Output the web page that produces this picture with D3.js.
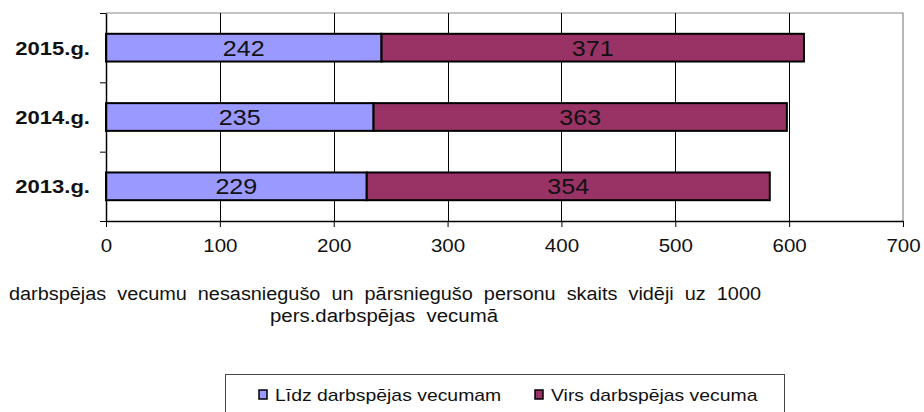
<!doctype html>
<html>
<head>
<meta charset="utf-8">
<script src="https://d3js.org/d3.v7.min.js"></script>
<style>
  body { margin: 0; background: #fff; }
  svg { display: block; font-family: "Liberation Sans", Arial, sans-serif; }
</style>
</head>
<body>
<script>
// data
var years = ["2015.g.", "2014.g.", "2013.g."];
var below = [242, 235, 229];   // Līdz darbspējas vecumam
var above = [371, 363, 354];   // Virs darbspējas vecuma
var seriesNames = ["Līdz darbspējas vecumam", "Virs darbspējas vecuma"];
var seriesColors = ["#9999FF", "#993366"];
var xTicks = [0, 100, 200, 300, 400, 500, 600, 700];
var titleLines = ["darbspējas  vecumu  nesasniegušo  un  pārsniegušo  personu  skaits  vidēji  uz  1000",
                  "pers.darbspējas  vecumā"];

var W = 924, H = 412;
var plot = { left: 106, right: 903, top: 13, bottom: 221 };
var WIDE = 1.14;   // the original text is drawn a bit wider than Arial

// stretch text horizontally by k, keeping its anchor
function stretch(sel, k) {
  sel.each(function() {
    var len = this.getComputedTextLength();
    d3.select(this).attr("textLength", len * k).attr("lengthAdjust", "spacingAndGlyphs");
  });
}

var svg = d3.select("body").append("svg").attr("width", W).attr("height", H);

var x = d3.scaleLinear().domain([0, 700]).range([plot.left, plot.right]);
var y = d3.scaleBand().domain(years).range([plot.top, plot.bottom]).paddingInner(0.6).paddingOuter(0.3);
var yTicks = d3.scaleLinear().domain([0, 3]).range([plot.bottom, plot.top]);

// frame (top + right, gray)
svg.append("path")
  .attr("d", "M" + plot.left + "," + plot.top + "H" + plot.right + "V" + plot.bottom)
  .attr("fill", "none").attr("stroke", "#888").attr("stroke-width", 1.2);

// vertical gridlines
svg.append("g").selectAll("line")
  .data(xTicks.filter(function(d){ return d > 0 && d < 700; }))
  .enter().append("line")
  .attr("x1", function(d){ return Math.round(x(d)) + 0.5; })
  .attr("x2", function(d){ return Math.round(x(d)) + 0.5; })
  .attr("y1", plot.top).attr("y2", plot.bottom)
  .attr("stroke", "#000").attr("stroke-width", 1);

// stacked bars
var rows = years.map(function(yr, i){
  return [
    { year: yr, x0: 0, x1: below[i], v: below[i], s: 0 },
    { year: yr, x0: below[i], x1: below[i] + above[i], v: above[i], s: 1 }
  ];
});
var seg = svg.append("g").selectAll("g.seg")
  .data(d3.merge(rows))
  .enter().append("g").attr("class", "seg");

seg.append("rect")
  .attr("x", function(d){ return x(d.x0); })
  .attr("y", function(d){ return y(d.year); })
  .attr("width", function(d){ return x(d.x1) - x(d.x0); })
  .attr("height", y.bandwidth())
  .attr("fill", function(d){ return seriesColors[d.s]; })
  .attr("stroke", "#000").attr("stroke-width", 2);

seg.append("text")
  .attr("x", function(d){ return (x(d.x0) + x(d.x1)) / 2; })
  .attr("y", function(d){ return y(d.year) + y.bandwidth() / 2; })
  .attr("dy", "0.36em")
  .attr("text-anchor", "middle")
  .style("font-size", "22px")
  .attr("fill", "#111")
  .text(function(d){ return d.v; })
  .call(stretch, WIDE);

// bottom axis
var xAxis = svg.append("g")
  .attr("transform", "translate(0," + plot.bottom + ")")
  .call(d3.axisBottom(x).tickValues(xTicks).tickSize(6).tickPadding(12).tickSizeOuter(0));
xAxis.select(".domain").attr("stroke", "#000").attr("stroke-width", 1.5);
xAxis.selectAll(".tick line").attr("stroke", "#000");
xAxis.selectAll("text").style("font-size", "18px").attr("fill", "#111")
  .call(stretch, WIDE);

// left axis (ticks at band boundaries)
var yAxis = svg.append("g")
  .attr("transform", "translate(" + plot.left + ",0)")
  .call(d3.axisLeft(yTicks).ticks(3).tickFormat("").tickSize(6).tickSizeOuter(0));
yAxis.select(".domain").attr("stroke", "#000").attr("stroke-width", 1.5);
yAxis.selectAll(".tick line").attr("stroke", "#000");

// category labels
svg.append("g").selectAll("text")
  .data(years).enter().append("text")
  .attr("x", 90)
  .attr("y", function(d){ return y(d) + y.bandwidth() / 2; })
  .attr("dy", "0.36em")
  .attr("text-anchor", "end")
  .style("font-size", "19px").style("font-weight", "bold")
  .attr("fill", "#111")
  .text(function(d){ return d; })
  .call(stretch, 1.16);

// axis title
svg.append("text")
  .attr("x", 385).attr("y", 300).attr("text-anchor", "middle")
  .style("font-size", "18px").style("white-space", "pre").attr("fill", "#111")
  .text(titleLines[0])
  .attr("textLength", 752).attr("lengthAdjust", "spacingAndGlyphs");
svg.append("text")
  .attr("x", 384).attr("y", 322).attr("text-anchor", "middle")
  .style("font-size", "18px").style("white-space", "pre").attr("fill", "#111")
  .text(titleLines[1])
  .attr("textLength", 228).attr("lengthAdjust", "spacingAndGlyphs");

// legend
var lg = svg.append("g");
lg.append("rect")
  .attr("x", 225.5).attr("y", 374.5).attr("width", 559).attr("height", 60)
  .attr("fill", "#fff").attr("stroke", "#444").attr("stroke-width", 1);
var legendX = [259, 535];
var item = lg.selectAll("g.item").data(seriesNames).enter().append("g").attr("class", "item")
  .attr("transform", function(d, i){ return "translate(" + legendX[i] + ",391)"; });
item.append("rect")
  .attr("x", 0).attr("y", -1).attr("width", 8).attr("height", 9)
  .attr("fill", function(d, i){ return seriesColors[i]; })
  .attr("stroke", "#000").attr("stroke-width", 1.5);
item.append("text")
  .attr("x", 16).attr("y", 4).attr("dy", "0.36em")
  .style("font-size", "17px").attr("fill", "#111")
  .text(function(d){ return d; })
  .call(stretch, WIDE);
</script>
</body>
</html>
